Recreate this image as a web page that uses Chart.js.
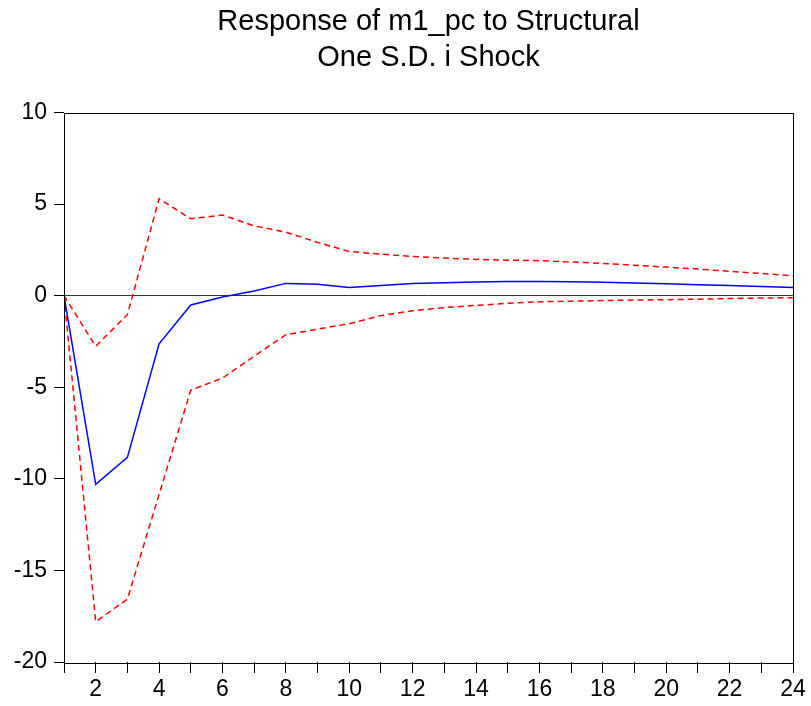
<!DOCTYPE html>
<html>
<head>
<meta charset="utf-8">
<script src="https://cdn.jsdelivr.net/npm/chart.js@4.4.0/dist/chart.umd.min.js"></script>
<style>
  html, body { margin:0; padding:0; background:#fff; }
  #wrap { width:811px; height:706px; }
</style>
</head>
<body>
<div id="wrap"><canvas id="irfChart" width="811" height="706"></canvas></div>
<script>
const periods = [1,2,3,4,5,6,7,8,9,10,11,12,13,14,15,16,17,18,19,20,21,22,23,24];
const response = [0,-10.3,-8.83,-2.63,-0.51,-0.07,0.26,0.67,0.62,0.44,0.56,0.67,0.71,0.74,0.78,0.78,0.76,0.73,0.69,0.65,0.6,0.56,0.5,0.45];
const upperBand = [0,-2.76,-1.04,5.29,4.2,4.4,3.81,3.47,2.91,2.41,2.27,2.14,2.05,1.98,1.94,1.91,1.84,1.76,1.66,1.56,1.45,1.33,1.21,1.09];
const lowerBand = [0,-17.8,-16.57,-10.85,-5.16,-4.5,-3.31,-2.13,-1.83,-1.53,-1.09,-0.82,-0.65,-0.53,-0.42,-0.33,-0.3,-0.27,-0.24,-0.22,-0.19,-0.16,-0.13,-0.11];
const yTicks = [-20,-15,-10,-5,0,5,10];
const titleLines = ['Response of m1_pc to Structural','One S.D. i Shock'];

function pts(vals){ return vals.map((v,i) => ({x: periods[i], y: v})); }

// frame round the plot area
const boxPlugin = {
  id:'box',
  afterDraw(chart){
    const a = chart.chartArea, c = chart.ctx;
    c.save();
    c.strokeStyle = '#000';
    c.lineWidth = 1;
    c.strokeRect(Math.round(a.left)+0.5, Math.round(a.top)+0.5, Math.round(a.right-a.left), Math.round(a.bottom-a.top));
    c.restore();
  }
};

function initChart(){
  const el = document.getElementById('irfChart');
  new Chart(el.getContext('2d'), {
    type:'line',
    data:{ datasets:[
      { data: pts(response), borderColor:'#0000ff', borderWidth:1.5, pointRadius:0, tension:0 },
      { data: pts(upperBand), borderColor:'#ff0000', borderWidth:1.5, borderDash:[6,4], pointRadius:0, tension:0 },
      { data: pts(lowerBand), borderColor:'#ff0000', borderWidth:1.5, borderDash:[6,4], pointRadius:0, tension:0 }
    ]},
    options:{
      responsive:false, animation:false,
      layout:{ padding:{ left:0, right:18, top:0, bottom:0 } },
      plugins:{
        legend:{ display:false },
        tooltip:{ enabled:false },
        title:{ display:true, text:titleLines, color:'#000', fullSize:false,
          font:{ family:'Liberation Sans, Arial', size:29, weight:'normal', lineHeight:1.25 },
          padding:{ top:4, bottom:36 } }
      },
      scales:{
        x:{ type:'linear', min:1, max:24,
          border:{ display:false },
          grid:{ drawOnChartArea:false, tickLength:11, tickColor:'#000' },
          ticks:{ stepSize:1, autoSkip:false, maxRotation:0, color:'#000', padding:3,
            font:{ family:'Liberation Sans, Arial', size:23 },
            callback: v => (v % 2 === 0 ? v : '') },
          afterFit(s){ s.height = 44; }
        },
        y:{ min:-20, max:10,
          border:{ display:false },
          grid:{ tickLength:10, tickColor:'#000', color: c => (c.tick && c.tick.value === 0 ? '#333' : 'transparent') },
          ticks:{ stepSize:5, color:'#000', padding:7,
            font:{ family:'Liberation Sans, Arial', size:23 } },
          afterBuildTicks(s){ s.ticks = yTicks.map(v => ({value:v})); },
          afterFit(s){ s.width = 64; }
        }
      }
    },
    plugins:[boxPlugin]
  });
}

document.addEventListener('DOMContentLoaded', initChart);
</script>
</body>
</html>
